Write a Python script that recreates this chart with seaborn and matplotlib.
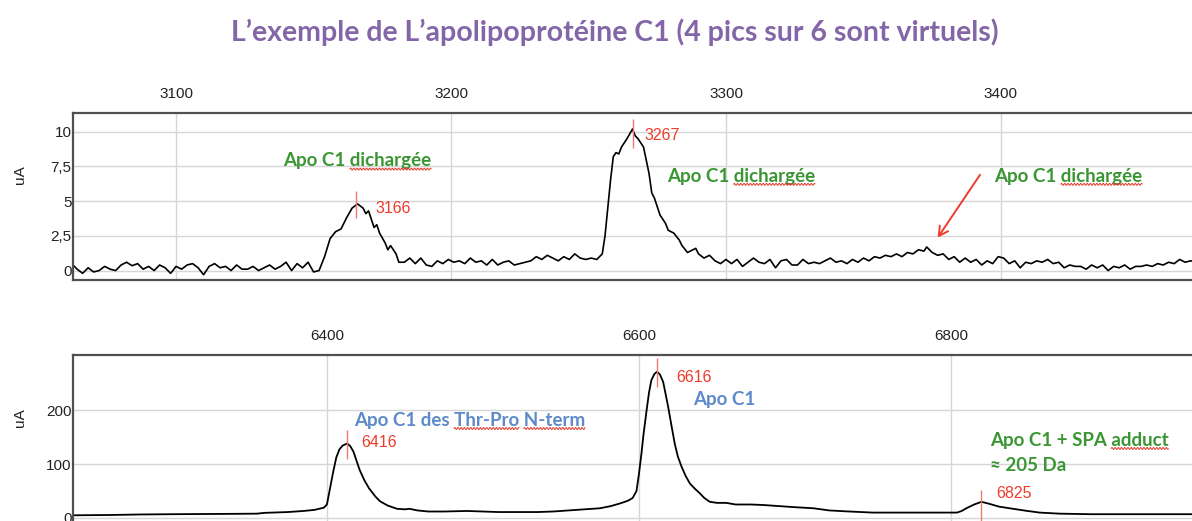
import numpy as np
import matplotlib
matplotlib.use("Agg")
import matplotlib.pyplot as plt
import seaborn as sns
from matplotlib.lines import Line2D

# ---------------- data ----------------
TITLE = "L’exemple de L’apolipoprotéine C1 (4 pics sur 6 sont virtuels)"
Y_LABEL = "uA"

top_mz = [3062, 3064, 3066, 3068, 3070, 3072, 3074, 3076, 3078, 3080, 3082, 3084, 3086, 3088, 3090,
          3092, 3094, 3096, 3098, 3100, 3102, 3104, 3106, 3108, 3110, 3112, 3114, 3116, 3118, 3120,
          3122, 3124, 3126, 3128, 3130, 3132, 3134, 3136, 3138, 3140, 3142, 3144, 3146, 3148, 3150,
          3152, 3154, 3156, 3158, 3160, 3162, 3164, 3166, 3168, 3169, 3170, 3172, 3173, 3174, 3176,
          3177, 3178, 3180, 3181, 3183, 3185, 3187, 3189, 3191, 3193, 3195, 3197, 3199, 3201, 3203,
          3205, 3207, 3209, 3211, 3213, 3215, 3217, 3219, 3221, 3223, 3225, 3227, 3229, 3231, 3233,
          3235, 3237, 3239, 3241, 3243, 3245, 3247, 3249, 3251, 3253, 3255, 3256, 3258, 3259, 3260,
          3261, 3262, 3264, 3266, 3267, 3268, 3270, 3272, 3273, 3274, 3276, 3278, 3279, 3281, 3283,
          3284, 3286, 3287, 3289, 3290, 3292, 3294, 3296, 3298, 3300, 3302, 3304, 3306, 3308, 3310,
          3312, 3314, 3316, 3318, 3320, 3322, 3324, 3326, 3328, 3330, 3332, 3334, 3336, 3338, 3340,
          3342, 3344, 3346, 3348, 3350, 3352, 3354, 3356, 3358, 3360, 3362, 3364, 3366, 3368, 3370,
          3372, 3373, 3375, 3377, 3379, 3381, 3383, 3385, 3387, 3389, 3391, 3393, 3395, 3397, 3399,
          3401, 3403, 3405, 3407, 3409, 3411, 3413, 3415, 3417, 3419, 3421, 3423, 3425, 3427, 3429,
          3431, 3433, 3435, 3437, 3439, 3441, 3443, 3445, 3447, 3449, 3451, 3453, 3455, 3457, 3459,
          3461, 3463, 3465, 3467, 3469, 3472]
top_ua = [0.5, 0.1, -0.2, 0.2, -0.1, 0.0, 0.3, 0.1, 0.0, 0.4, 0.6, 0.35, 0.5, 0.1, 0.3,
          0.0, 0.4, 0.2, -0.2, 0.3, 0.1, 0.4, 0.5, 0.2, -0.3, 0.3, 0.5, 0.2, 0.3, 0.0,
          0.4, 0.1, 0.1, 0.3, 0.0, 0.2, 0.4, 0.1, 0.3, 0.6, 0.0, 0.5, 0.2, 0.6, -0.1,
          0.0, 1.0, 2.3, 2.8, 3.0, 3.8, 4.5, 4.8, 4.5, 4.1, 4.3, 3.1, 3.3, 2.7, 2.0,
          1.5, 1.8, 1.2, 0.6, 0.6, 0.9, 0.5, 0.9, 0.4, 0.3, 0.7, 0.5, 0.8, 0.6, 0.7,
          0.5, 0.9, 0.6, 0.7, 0.4, 0.8, 0.4, 0.6, 0.7, 0.4, 0.5, 0.6, 0.7, 1.0, 0.8,
          1.1, 0.9, 0.7, 1.0, 0.8, 1.2, 0.9, 0.8, 0.9, 0.8, 1.2, 2.5, 6.5, 8.2, 8.5,
          8.4, 8.9, 9.5, 10.2, 9.7, 9.5, 8.9, 7.0, 5.6, 5.2, 4.0, 3.4, 2.9, 2.7, 2.2,
          1.8, 1.3, 1.4, 1.6, 1.2, 0.9, 1.1, 0.7, 0.5, 0.8, 0.5, 0.8, 0.3, 0.6, 0.9,
          0.6, 0.5, 0.8, 0.2, 0.7, 0.8, 0.4, 0.4, 0.8, 0.5, 0.6, 0.5, 0.7, 0.9, 0.6,
          0.7, 0.5, 0.8, 0.6, 0.9, 0.7, 1.0, 0.9, 1.1, 1.0, 1.2, 1.0, 1.3, 1.2, 1.5,
          1.4, 1.7, 1.3, 1.1, 1.2, 0.8, 1.0, 0.6, 0.9, 0.6, 0.8, 0.4, 0.7, 0.5, 1.0,
          0.9, 0.5, 0.7, 0.2, 0.6, 0.5, 0.7, 0.6, 0.8, 0.5, 0.6, 0.2, 0.4, 0.3, 0.3,
          0.1, 0.4, 0.2, 0.4, 0.0, 0.3, 0.2, 0.4, 0.1, 0.3, 0.3, 0.4, 0.3, 0.5, 0.4,
          0.6, 0.5, 0.8, 0.6, 0.7, 0.6]
top_xticks = [3100, 3200, 3300, 3400]
top_yticks = [0, 2.5, 5, 7.5, 10]
top_yticklabels = ["0", "2,5", "5", "7,5", "10"]
top_peak_mz = [3165.5, 3266]
top_peak_labels = ["3166", "3267"]

bot_mz = [6237, 6260, 6280, 6300, 6330, 6355, 6360, 6375, 6385, 6392, 6398, 6400, 6402, 6404, 6406,
          6408, 6410, 6413, 6415, 6417, 6419, 6421, 6424, 6427, 6431, 6434, 6439, 6445, 6450, 6453,
          6458, 6465, 6475, 6490, 6500, 6510, 6520, 6535, 6545, 6555, 6565, 6575, 6582, 6588, 6593,
          6596, 6598.5, 6600, 6601.7, 6603, 6605, 6606.5, 6608, 6610, 6611.7, 6613.5, 6615.6, 6617,
          6618.8, 6621, 6623, 6625, 6627.4, 6630, 6632.7, 6636, 6639, 6642, 6645.5, 6650, 6656, 6662,
          6672, 6680, 6690, 6700, 6712, 6722, 6735, 6750, 6770, 6790, 6804, 6807, 6810, 6815, 6819.7,
          6825, 6831, 6840, 6848, 6857, 6870, 6890, 6920, 6962]
bot_ua = [5, 5.5, 6.5, 7, 7.5, 8, 9.5, 11, 13, 15, 19, 25, 55, 85, 112,
          127, 134, 138, 133, 123, 106, 89, 70, 55, 40, 31, 23, 17, 16, 17,
          14, 12, 12, 13, 12, 11, 11, 11, 12, 14, 16, 18, 22, 27, 32,
          37, 50, 80, 120, 155, 200, 232, 255, 267, 271, 266, 252, 232,
          206, 170, 138, 114, 95, 78, 64, 54, 46, 37, 30, 28, 28, 25,
          25, 24, 22, 20, 18, 14, 12, 10, 10, 10, 10, 13, 18, 25, 30,
          26, 21, 17, 13.5, 10, 8, 7, 7, 7]
bot_xticks = [6400, 6600, 6800]
bot_yticks = [0, 100, 200]
bot_yticklabels = ["0", "100", "200"]
bot_peak_mz = [6413, 6611.7, 6819.7]
bot_peak_labels = ["6416", "6616", "6825"]

# ---------------- style ----------------
sns.set_theme(style="white")
plt.rcParams["font.family"] = ["Liberation Sans", "DejaVu Sans"]

GREEN = "#3a9633"
BLUE = "#5d8ac8"
RED = "#ee3b2b"
MARK = "#f07a70"
PURPLE = "#8366a8"
SPINE = "#505050"
GRID = "#d6d6d6"
ANNOT_FONT = ["Lato", "DejaVu Sans"]

W, H = 1192, 521
fig = plt.figure(figsize=(W / 100, H / 100), dpi=100)
ax1 = fig.add_axes([73 / W, 241 / H, 1127 / W, 167 / H])
ax2 = fig.add_axes([73 / W, -4 / H, 1127 / W, 170 / H])

sns.lineplot(x=top_mz, y=top_ua, ax=ax1, color="black", linewidth=1.2, estimator=None)
sns.lineplot(x=bot_mz, y=bot_ua, ax=ax2, color="black", linewidth=1.3, estimator=None)

ax1.set_xlim(3062.5, 3472.4)
ax1.set_ylim(-0.68, 11.35)
ax2.set_xlim(6237.2, 6959.8)
ax2.set_ylim(-13, 302)

for ax, xt, yt, ytl in [(ax1, top_xticks, top_yticks, top_yticklabels),
                        (ax2, bot_xticks, bot_yticks, bot_yticklabels)]:
    ax.set_xticks(xt)
    ax.set_xticklabels([str(v) for v in xt])
    ax.set_yticks(yt)
    ax.set_yticklabels(ytl)
    ax.xaxis.tick_top()
    ax.tick_params(axis="x", length=0, pad=9, labelsize=11, labelcolor="#222222")
    ax.tick_params(axis="y", length=0, pad=1, labelsize=11, labelcolor="#222222")
    ax.grid(True, color=GRID, linewidth=1.0)
    ax.set_axisbelow(True)
    ax.set_xlabel("")
    ax.set_ylabel("")
    for s in ["top", "bottom", "left"]:
        ax.spines[s].set_color(SPINE)
        ax.spines[s].set_linewidth(1.6)
    ax.spines["right"].set_visible(False)

fig.text(20 / W, (H - 175) / H, Y_LABEL, rotation=90, ha="center", va="center",
         fontsize=11, color="#222222")
fig.text(20 / W, (H - 418) / H, Y_LABEL, rotation=90, ha="center", va="center",
         fontsize=11, color="#222222")

fig.text(615 / W, (H - 41) / H, TITLE, ha="center", va="baseline", fontsize=20.5,
         fontweight="bold", color=PURPLE, family=ANNOT_FONT)

# peak markers
top_spans = [(3.8, 5.75), (8.83, 10.9)]
for mz, (y0, y1) in zip(top_peak_mz, top_spans):
    ax1.vlines(mz, y0, y1, color=MARK, linewidth=1.0)
bot_spans = [(110, 163), (243, 296), (52, -13)]
for mz, (y0, y1) in zip(bot_peak_mz, bot_spans):
    ax2.vlines(mz, y0, y1, color=MARK, linewidth=1.0)

# peak labels
pfs = 11.5
ax1.text(3172.4, 4.45, top_peak_labels[0], color=RED, fontsize=pfs, va="center")
ax1.text(3270.5, 9.7, top_peak_labels[1], color=RED, fontsize=pfs, va="center")
ax2.text(6422, 139, bot_peak_labels[0], color=RED, fontsize=pfs, va="center")
ax2.text(6624, 261, bot_peak_labels[1], color=RED, fontsize=pfs, va="center")
ax2.text(6829, 46, bot_peak_labels[2], color=RED, fontsize=pfs, va="center")

# annotations
afs = 13.5
t1 = ax1.text(3138.9, 7.9, "Apo C1 dichargée", color=GREEN, fontsize=afs, fontweight="bold",
              va="center", family=ANNOT_FONT)
t2 = ax1.text(3278.5, 6.8, "Apo C1 dichargée", color=GREEN, fontsize=afs, fontweight="bold",
              va="center", family=ANNOT_FONT)
t3 = ax1.text(3397.5, 6.8, "Apo C1 dichargée", color=GREEN, fontsize=afs, fontweight="bold",
              va="center", family=ANNOT_FONT)
ax1.annotate("", xy=(3377, 2.37), xytext=(3392.4, 6.9),
             arrowprops=dict(arrowstyle="->,head_length=0.55,head_width=0.3", color=RED,
                             lw=1.4, shrinkA=0, shrinkB=0))

t4 = ax2.text(6417.3, 181, "Apo C1 des Thr-Pro N-term", color=BLUE, fontsize=afs,
              fontweight="bold", va="center", family=ANNOT_FONT)
ax2.text(6635, 219, "Apo C1", color=BLUE, fontsize=afs, fontweight="bold", va="center",
         family=ANNOT_FONT)
t5 = ax2.text(6825, 144, "Apo C1 + SPA adduct", color=GREEN, fontsize=afs, fontweight="bold",
              va="center", family=ANNOT_FONT)
ax2.text(6825, 97, "≈ 205 Da", color=GREEN, fontsize=afs, fontweight="bold", va="center",
         family=ANNOT_FONT)

# spell-check squiggles under some words
fig.canvas.draw()
renderer = fig.canvas.get_renderer()


def text_width(s, fp):
    t = fig.text(0, 0, s, fontproperties=fp)
    w = t.get_window_extent(renderer).width
    t.remove()
    return w


def squiggle(artist, prefix, word):
    fp = artist.get_fontproperties()
    bb = artist.get_window_extent(renderer)
    x0 = bb.x0 + text_width(prefix + word, fp) - text_width(word, fp)
    x1 = x0 + text_width(word, fp)
    xs = np.linspace(x0, x1, int((x1 - x0) * 2) + 2)
    ys = bb.y0 + 0.3 + 1.0 * np.sin((xs - x0) * 2 * np.pi / 3.2)
    fig.add_artist(Line2D(xs, ys, transform=None, color="#e23a2a", linewidth=0.7))


for art in (t1, t2, t3):
    squiggle(art, "Apo C1 ", "dichargée")
squiggle(t4, "Apo C1 des ", "Thr-Pro")
squiggle(t4, "Apo C1 des Thr-Pro ", "N-term")
squiggle(t5, "Apo C1 + SPA ", "adduct")

fig.savefig("out.png", dpi=100)
